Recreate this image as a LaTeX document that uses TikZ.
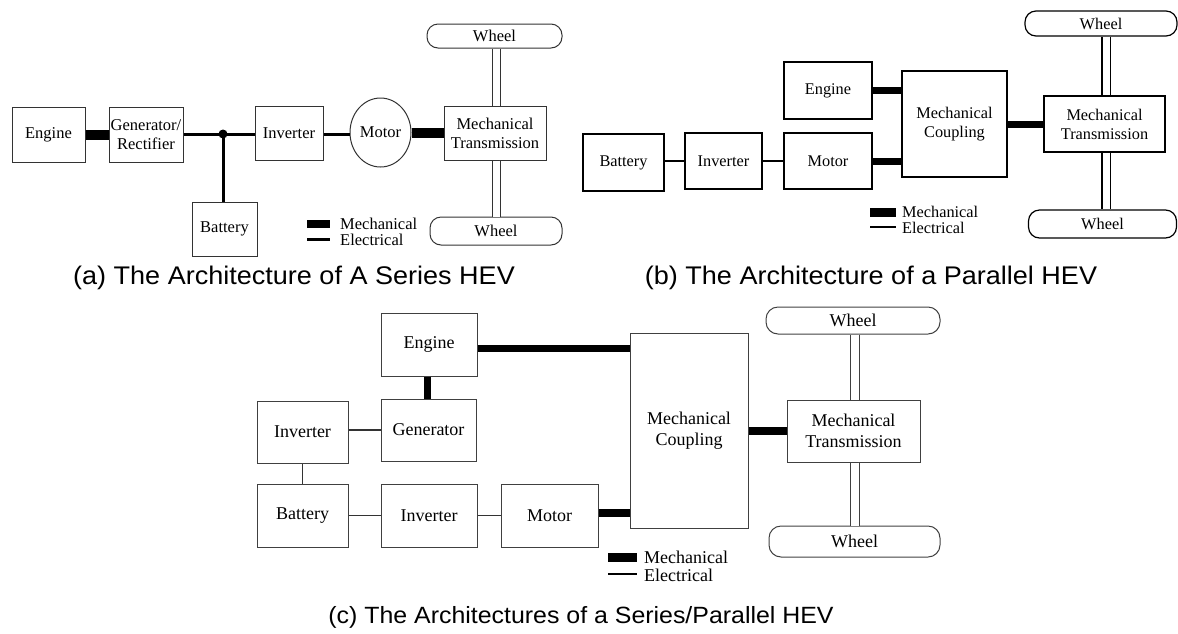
\documentclass[tikz,border=0pt]{standalone}
\usepackage{fontspec}
\setmainfont{Liberation Serif}
\newfontfamily\capfont[FakeStretch=1.06]{Liberation Sans}
\usetikzlibrary{shapes.geometric}
\newcommand\fsA{\fontsize{16.5}{19}\selectfont}
\newcommand\fsB{\fontsize{16.3}{19}\selectfont}
\newcommand\fsC{\fontsize{18}{20.5}\selectfont}
\begin{document}
\begin{tikzpicture}[x=1pt,y=-1pt,
  blkA/.style={draw=black!80, line width=1pt, rectangle, inner sep=0pt, align=center, font=\fsA},
  blkB/.style={draw=black, line width=1.8pt, rectangle, inner sep=0pt, align=center, font=\fsB},
  blkC/.style={draw=black!75, line width=1pt, rectangle, inner sep=0pt, align=center, font=\fsC},
  wheelA/.style={blkA, rounded corners=11pt},
  wheelB/.style={blkB, line width=1.2pt, rounded corners=11pt},
  wheelC/.style={blkC, rounded corners=12pt},
  mechA/.style={line width=10pt},
  elecA/.style={line width=3pt},
  mechB/.style={line width=7pt},
  elecB/.style={line width=1.6pt},
  mechC/.style={line width=7.5pt},
  elecC/.style={line width=1.1pt, black!80},
  shaftA/.style={draw=black!80, double=white, double distance=7pt, line width=1pt},
  shaftB/.style={draw=black, double=white, double distance=7pt, line width=1.3pt},
  shaftC/.style={draw=black!75, double=white, double distance=8pt, line width=1pt},
  legA/.style={anchor=west, inner sep=0pt, font=\fsA},
  legB/.style={anchor=west, inner sep=0pt, font=\fsB},
  legC/.style={anchor=west, inner sep=0pt, font=\fsC},
  captxt/.style={inner sep=0pt, font=\capfont\fontsize{25.5}{30}\selectfont}
]
\useasboundingbox (0,0) rectangle (1178,633);

% ---------------- (a) Series ----------------
\node[blkA, minimum width=73pt, minimum height=55pt] (aEng) at (48.5,134.5) {Engine};
\node[blkA, minimum width=74pt, minimum height=55pt] (aGen) at (146,134.5) {Generator/\\Rectifier};
\node[blkA, minimum width=68pt, minimum height=54pt] (aInv) at (289,133.5) {Inverter};
\node[blkA, minimum width=65pt, minimum height=54pt] (aBat) at (224.5,229) {Battery};
\node[draw=black!80, line width=1pt, ellipse, inner sep=0pt, minimum width=61pt, minimum height=69pt, font=\fsA] (aMot) at (380.5,132.5) {Motor};
\node[blkA, minimum width=102pt, minimum height=54pt] (aMT) at (495,133) {Mechanical\\Transmission};
\node[wheelA, minimum width=135pt, minimum height=24pt] (aWT) at (494.5,36) {Wheel};
\node[wheelA, minimum width=132pt, minimum height=28pt] (aWB) at (496,231) {Wheel};
\coordinate (aJ) at (223,134);
\coordinate (aS) at (496.5,0);

\draw[mechA] (aEng.east) -- (aGen.west);
\draw[elecA] (aGen.east |- aJ) -- (aInv.west |- aJ);
\draw[elecA] (aJ) -- (aJ |- aBat.north);
\fill (aJ) circle (4.5pt);
\draw[elecA] (aInv.east |- aJ) -- (aMot.west |- aJ);
\draw[mechA] (aMot.east) -- (aMT.west |- aMot.east);
\draw[shaftA] (aWT.south -| aS) -- (aMT.north -| aS);
\draw[shaftA] (aMT.south -| aS) -- (aWB.north -| aS);

\coordinate (aL1) at (307,224);
\coordinate (aL2) at (330,224);
\coordinate (aL3) at (307,239);
\coordinate (aL4) at (330,239);
\draw[line width=8pt] (aL1) -- (aL2);
\draw[elecA] (aL3) -- (aL4);
\node[legA] (aLegM) at (340,223.5) {Mechanical};
\node[legA] (aLegE) at (340,240) {Electrical};

\node[captxt] (capA) at (294,278) {(a) The Architecture of A Series HEV};

% ---------------- (b) Parallel ----------------
\node[blkB, minimum width=81pt, minimum height=57pt] (bBat) at (623.5,162.5) {Battery};
\node[blkB, minimum width=77pt, minimum height=56pt] (bInv) at (723.5,161) {Inverter};
\node[blkB, minimum width=88pt, minimum height=56pt] (bMot) at (828,161) {Motor};
\node[blkB, minimum width=88pt, minimum height=57pt] (bEng) at (828,90.5) {Engine};
\node[blkB, minimum width=105pt, minimum height=106pt] (bMC) at (954.5,124) {Mechanical\\Coupling};
\node[blkB, minimum width=121pt, minimum height=56pt] (bMT) at (1104.5,124) {Mechanical\\Transmission};
\node[wheelB, minimum width=152pt, minimum height=25pt] (bWT) at (1101,23.5) {Wheel};
\node[wheelB, minimum width=148pt, minimum height=28pt] (bWB) at (1102.5,224) {Wheel};
\coordinate (bS) at (1106,0);

\draw[elecB] (bBat.east |- bInv.west) -- (bInv.west);
\draw[elecB] (bInv.east) -- (bMot.west);
\draw[mechB] (bEng.east) -- (bEng.east -| bMC.west);
\draw[mechB] (bMot.east) -- (bMot.east -| bMC.west);
\draw[mechB] (bMC.east) -- (bMT.west);
\draw[shaftB] (bWT.south -| bS) -- (bMT.north -| bS);
\draw[shaftB] (bMT.south -| bS) -- (bWB.north -| bS);

\coordinate (bL1) at (870,212.5);
\coordinate (bL2) at (896,212.5);
\coordinate (bL3) at (870,227);
\coordinate (bL4) at (896,227);
\draw[line width=9pt] (bL1) -- (bL2);
\draw[line width=1.2pt] (bL3) -- (bL4);
\node[legB] (bLegM) at (902,212) {Mechanical};
\node[legB] (bLegE) at (902,228) {Electrical};

\node[captxt] (capB) at (871,278) {(b) The Architecture of a Parallel HEV};

% ---------------- (c) Series/Parallel ----------------
\node[blkC, minimum width=96pt, minimum height=63pt] (cEng) at (429,344.5) {Engine};
\node[blkC, minimum width=95pt, minimum height=62pt] (cGen) at (428.5,430) {Generator};
\node[blkC, minimum width=91pt, minimum height=62pt] (cInv1) at (302.5,432) {Inverter};
\node[blkC, minimum width=91pt, minimum height=63pt] (cBat) at (302.5,515.5) {Battery};
\node[blkC, minimum width=96pt, minimum height=63pt] (cInv2) at (429,515.5) {Inverter};
\node[blkC, minimum width=97pt, minimum height=63pt] (cMot) at (549.5,515.5) {Motor};
\node[blkC, minimum width=118pt, minimum height=195pt] (cMC) at (689,430.5) {Mechanical\\Coupling};
\node[blkC, minimum width=133pt, minimum height=62pt] (cMT) at (853.5,431) {Mechanical\\Transmission};
\node[wheelC, minimum width=174pt, minimum height=27pt] (cWT) at (853,320.5) {Wheel};
\node[wheelC, minimum width=171pt, minimum height=31pt] (cWB) at (854.5,541.5) {Wheel};
\coordinate (cS) at (854.5,0);
\coordinate (cX) at (427.5,0);
\coordinate (cY1) at (0,348.5);
\coordinate (cY2) at (0,513);

\draw[mechC] (cEng.east |- cY1) -- (cMC.west |- cY1);
\draw[mechC] (cEng.south -| cX) -- (cGen.north -| cX);
\draw[elecC] (cInv1.east |- cGen.west) -- (cGen.west);
\draw[elecC] (cInv1.south) -- (cBat.north);
\draw[elecC] (cBat.east) -- (cInv2.west);
\draw[elecC] (cInv2.east) -- (cMot.west);
\draw[mechC] (cMot.east |- cY2) -- (cMC.west |- cY2);
\draw[mechC] (cMC.east |- cMT.west) -- (cMT.west);
\draw[shaftC] (cWT.south -| cS) -- (cMT.north -| cS);
\draw[shaftC] (cMT.south -| cS) -- (cWB.north -| cS);

\coordinate (cL1) at (608,557.5);
\coordinate (cL2) at (637,557.5);
\coordinate (cL3) at (608,574);
\coordinate (cL4) at (637,574);
\draw[line width=9pt] (cL1) -- (cL2);
\draw[line width=1.1pt] (cL3) -- (cL4);
\node[legC] (cLegM) at (644,557.5) {Mechanical};
\node[legC] (cLegE) at (644,575) {Electrical};

\node[captxt, font=\capfont\fontsize{23.5}{30}\selectfont] (capC) at (581,617) {(c) The Architectures of a Series/Parallel HEV};
\end{tikzpicture}
\end{document}
